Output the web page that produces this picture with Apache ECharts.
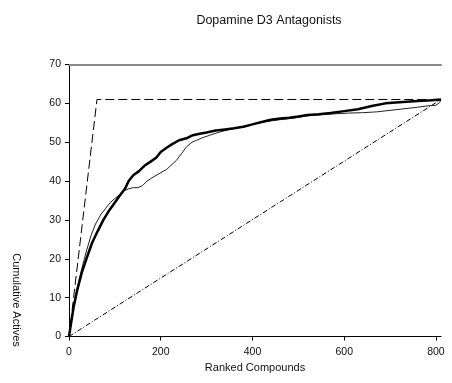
<!DOCTYPE html>
<html>
<head>
<meta charset="utf-8">
<script src="https://cdn.jsdelivr.net/npm/echarts@6/dist/echarts.min.js"></script>
<style>html,body{margin:0;padding:0;background:#fff;}#c{width:452px;height:383px;}</style>
</head>
<body>
<div id="c"></div>
<script>
const titleText = 'Dopamine D3 Antagonists';
const xName = 'Ranked Compounds';
const yName = 'Cumulative Actives';
const xTicks = [0, 200, 400, 600, 800];
const yTicks = [0, 10, 20, 30, 40, 50, 60, 70];

const idealX = [0, 61, 811];
const idealY = [0, 61, 61];
const randomX = [0, 811];
const randomY = [0, 61];

const thickX = [0, 4, 10, 18, 28, 38, 50, 62, 75, 88, 100, 112, 122, 130, 140, 152, 165, 178, 190, 200, 212, 225, 240, 256, 270, 285, 300, 320, 340, 360, 380, 400, 420, 440, 460, 480, 500, 520, 545, 570, 600, 630, 660, 690, 720, 760, 790, 811];
const thickY = [0, 3, 7.5, 12, 16.5, 20, 24, 27, 30, 32.5, 34.5, 36.5, 38, 40, 41.5, 42.5, 44, 45, 46, 47.5, 48.5, 49.5, 50.5, 51, 51.8, 52.2, 52.5, 53, 53.3, 53.6, 54, 54.6, 55.2, 55.8, 56.1, 56.3, 56.6, 57, 57.2, 57.5, 58, 58.5, 59.3, 60, 60.3, 60.6, 60.8, 61];

const thinX = [0, 4, 10, 18, 28, 38, 48, 58, 70, 80, 90, 100, 110, 120, 130, 140, 150, 160, 170, 183, 195, 205, 213, 222, 234, 245, 256, 268, 278, 292, 307, 325, 344, 370, 400, 430, 460, 490, 520, 550, 580, 610, 640, 670, 700, 730, 760, 785, 800, 808, 811];
const thinY = [0, 3.5, 8, 12.5, 17.5, 22, 26, 29, 31.5, 33, 34.5, 35.5, 36.5, 37.5, 38, 38.3, 38.3, 38.8, 40, 41, 41.8, 42.5, 43, 44, 45.3, 47, 48.8, 50, 50.5, 51.2, 51.8, 52.5, 53.1, 53.8, 54.6, 55.3, 55.8, 56.2, 56.8, 57.1, 57.3, 57.5, 57.6, 57.8, 58.2, 58.6, 59, 59.4, 59.5, 60.2, 61];

const zip = (xs, ys) => xs.map((x, i) => [x, ys[i]]);
const FONT = 'Liberation Sans, Arial, sans-serif';

const chart = echarts.init(document.getElementById('c'), null, {renderer: 'canvas'});
chart.setOption({
  animation: false,
  backgroundColor: '#fff',
  title: {
    text: titleText, left: 264, top: 9, textAlign: 'center',
    textStyle: {fontFamily: FONT, fontSize: 12.5, fontWeight: 'normal', color: '#111'}
  },
  grid: {left: 69, top: 64.5, width: 372, height: 272, containLabel: false},
  xAxis: [{
    type: 'value', min: 0, max: 811, position: 'bottom',
    axisLine: {show: true, onZero: false, lineStyle: {color: '#000', width: 1}},
    axisTick: {show: true, length: 4, inside: false, customValues: xTicks, lineStyle: {color: '#000'}},
    axisLabel: {customValues: xTicks, margin: 10, fontFamily: FONT, fontSize: 10.5, color: '#111'},
    splitLine: {show: false},
    name: xName, nameLocation: 'middle', nameGap: 26,
    nameTextStyle: {fontFamily: FONT, fontSize: 11, color: '#111'}
  }, {
    type: 'value', min: 0, max: 811, position: 'top',
    axisLine: {show: true, onZero: false, lineStyle: {color: '#8a8a8a', width: 2}},
    axisTick: {show: false}, axisLabel: {show: false}, splitLine: {show: false}
  }],
  yAxis: {
    type: 'value', min: 0, max: 70, interval: 10,
    axisLine: {show: true, onZero: false, lineStyle: {color: '#000', width: 1}},
    axisTick: {show: true, length: 4, inside: false, customValues: yTicks, lineStyle: {color: '#000'}},
    axisLabel: {customValues: yTicks, margin: 8, fontFamily: FONT, fontSize: 10.5, color: '#111'},
    splitLine: {show: false}
  },
  graphic: [{
    type: 'text', x: 16, y: 300, rotation: -Math.PI / 2,
    style: {text: yName, fontFamily: FONT, fontSize: 11, fill: '#111', align: 'center', verticalAlign: 'middle'}
  }],
  series: [
    {type: 'line', name: 'ideal', data: zip(idealX, idealY), symbol: 'none',
     lineStyle: {color: '#000', width: 1, type: [9, 4]}},
    {type: 'line', name: 'random', data: zip(randomX, randomY), symbol: 'none',
     lineStyle: {color: '#000', width: 1, type: [5, 2, 1, 2]}},
    {type: 'line', name: 'thin', data: zip(thinX, thinY), symbol: 'none',
     lineStyle: {color: '#222', width: 1}},
    {type: 'line', name: 'thick', data: zip(thickX, thickY), symbol: 'none',
     lineStyle: {color: '#000', width: 2.5}}
  ]
});
</script>
</body>
</html>
